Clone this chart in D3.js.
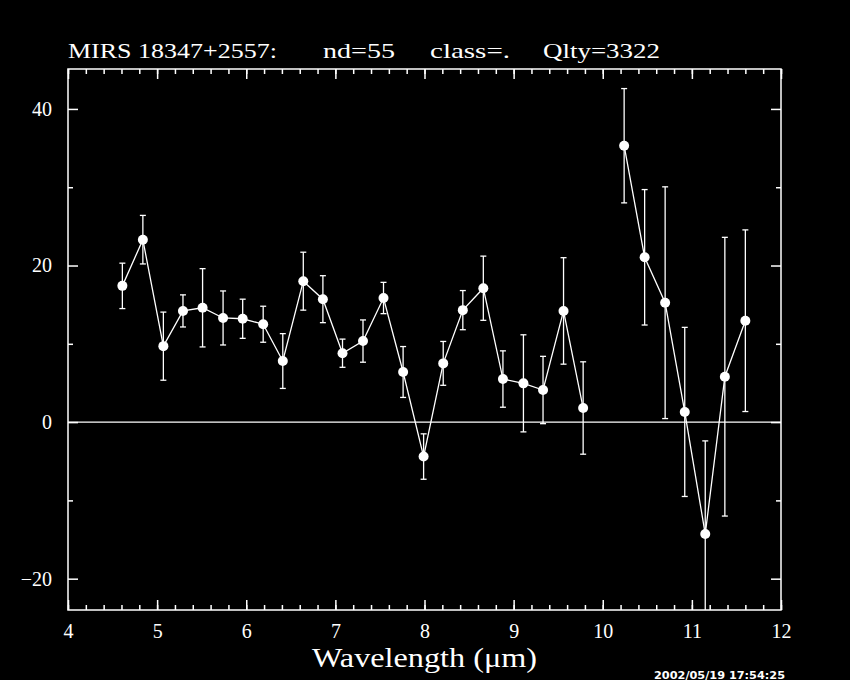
<!DOCTYPE html>
<html>
<head>
<meta charset="utf-8">
<script src="https://cdn.jsdelivr.net/npm/d3@7"></script>
<style>
  html, body { margin: 0; padding: 0; background: #000; }
  svg { display: block; }
  text { fill: #fff; }
</style>
</head>
<body>
<svg id="chart" width="850" height="680"></svg>
<script>
// ---- data ----
const wavelength = [4.61,4.84,5.07,5.29,5.51,5.74,5.96,6.19,6.41,6.64,6.86,7.08,7.31,7.54,7.76,7.99,8.21,8.43,8.66,8.88,9.11,9.33,9.56,9.78,
                    10.24,10.47,10.70,10.92,11.15,11.37,11.60];
const flux = [17.4,23.3,9.7,14.2,14.6,13.3,13.2,12.5,7.8,18.0,15.7,8.8,10.35,15.85,6.4,-4.4,7.5,14.3,17.1,5.5,4.95,4.1,14.2,1.8,
              35.3,21.05,15.25,1.3,-14.3,5.8,12.95];
const fluxErr = [2.9,3.1,4.35,2.05,5.0,3.45,2.5,2.3,3.5,3.7,3.0,1.8,2.7,2.0,3.25,2.9,2.8,2.5,4.1,3.6,6.2,4.3,6.8,5.9,
                 7.3,8.65,14.8,10.8,11.9,17.8,11.6];
const segment = [0,0,0,0,0,0,0,0,0,0,0,0,0,0,0,0,0,0,0,0,0,0,0,0,
                 1,1,1,1,1,1,1];
const xTickLabels = [4,5,6,7,8,9,10,11,12];
const xMinorTicks = d3.range(4, 12.0001, 0.2).map(v => +v.toFixed(1));
const yTickLabels = [-20,0,20,40];
const yMinorTicks = [-10,10,30];
const titleParts = ["MIRS 18347+2557:", "nd=55", "class=.", "Qlty=3322"];
const xTitle = "Wavelength (\u03BCm)";
const stamp = "2002/05/19 17:54:25";

// ---- layout ----
const L = 68, R = 781, T = 69, B = 610;
const svg = d3.select("#chart");
svg.append("rect").attr("width", 850).attr("height", 680).attr("fill", "#000");

const x = d3.scaleLinear().domain([4, 12]).range([L, R]);
const y = d3.scaleLinear().domain([-24, 45.1]).range([B, T]);

svg.append("clipPath").attr("id", "plotclip")
  .append("rect").attr("x", L).attr("y", T).attr("width", R - L).attr("height", B - T);

const fontSerif = "'Liberation Serif','DejaVu Serif',serif";

function styleAxis(g) {
  g.select(".domain").remove();
  g.selectAll("line").attr("stroke", "#fff").attr("stroke-width", 1.5);
}

// major/minor ticks, inward, on all four sides
svg.append("g").attr("transform", `translate(0,${B})`)
  .call(d3.axisBottom(x).tickValues(xMinorTicks).tickSize(-5).tickFormat(""))
  .call(styleAxis);
svg.append("g").attr("transform", `translate(0,${B})`)
  .call(d3.axisBottom(x).tickValues(xTickLabels).tickSize(-10).tickPadding(14).tickFormat(d3.format("d")))
  .call(styleAxis)
  .call(g => g.selectAll("text").attr("fill", "#fff").attr("font-family", fontSerif).attr("font-size", 20));
svg.append("g").attr("transform", `translate(0,${T})`)
  .call(d3.axisTop(x).tickValues(xMinorTicks).tickSize(-5).tickFormat(""))
  .call(styleAxis);
svg.append("g").attr("transform", `translate(0,${T})`)
  .call(d3.axisTop(x).tickValues(xTickLabels).tickSize(-10).tickFormat(""))
  .call(styleAxis);

svg.append("g").attr("transform", `translate(${L},0)`)
  .call(d3.axisLeft(y).tickValues(yMinorTicks).tickSize(-5).tickFormat(""))
  .call(styleAxis);
svg.append("g").attr("transform", `translate(${L},0)`)
  .call(d3.axisLeft(y).tickValues(yTickLabels).tickSize(-10).tickPadding(16)
        .tickFormat(d => d < 0 ? "\u2212" + Math.abs(d) : String(d)))
  .call(styleAxis)
  .call(g => g.selectAll("text").attr("fill", "#fff").attr("font-family", fontSerif).attr("font-size", 20));
svg.append("g").attr("transform", `translate(${R},0)`)
  .call(d3.axisRight(y).tickValues(yMinorTicks).tickSize(-5).tickFormat(""))
  .call(styleAxis);
svg.append("g").attr("transform", `translate(${R},0)`)
  .call(d3.axisRight(y).tickValues(yTickLabels).tickSize(-10).tickFormat(""))
  .call(styleAxis);

// frame
svg.append("rect").attr("x", L).attr("y", T).attr("width", R - L).attr("height", B - T)
  .attr("fill", "none").attr("stroke", "#fff").attr("stroke-width", 1.5);

// zero line
svg.append("line").attr("x1", L).attr("x2", R).attr("y1", y(0)).attr("y2", y(0))
  .attr("stroke", "#fff").attr("stroke-width", 1.2);

const plot = svg.append("g").attr("clip-path", "url(#plotclip)");
const pts = wavelength.map((w, i) => ({w, f: flux[i], e: fluxErr[i], s: segment[i]}));

// connecting lines per segment
const line = d3.line().x(d => x(d.w)).y(d => y(d.f));
d3.groups(pts, d => d.s).forEach(([, seg]) => {
  plot.append("path").datum(seg).attr("d", line)
    .attr("fill", "none").attr("stroke", "#fff").attr("stroke-width", 1.3);
});

// error bars
const eb = plot.append("g").attr("stroke", "#fff").attr("stroke-width", 1.3);
pts.forEach(d => {
  eb.append("line").attr("x1", x(d.w)).attr("x2", x(d.w)).attr("y1", y(d.f - d.e)).attr("y2", y(d.f + d.e));
  eb.append("line").attr("x1", x(d.w) - 3).attr("x2", x(d.w) + 3).attr("y1", y(d.f + d.e)).attr("y2", y(d.f + d.e));
  eb.append("line").attr("x1", x(d.w) - 3).attr("x2", x(d.w) + 3).attr("y1", y(d.f - d.e)).attr("y2", y(d.f - d.e));
});

// markers
plot.selectAll("circle.pt").data(pts).enter().append("circle")
  .attr("cx", d => x(d.w)).attr("cy", d => y(d.f)).attr("r", 5).attr("fill", "#fff");

// title
const titleX = [68, 323, 430, 543];
const titleEnd = [277, 395, 510, 660];
titleParts.forEach((t, i) => {
  svg.append("text").attr("x", titleX[i]).attr("y", 58)
    .attr("font-family", fontSerif).attr("font-size", 22)
    .attr("textLength", titleEnd[i] - titleX[i]).attr("lengthAdjust", "spacingAndGlyphs")
    .text(t);
});

// axis title
svg.append("text").attr("x", 312).attr("y", 667)
  .attr("font-family", fontSerif).attr("font-size", 27)
  .attr("textLength", 225).attr("lengthAdjust", "spacingAndGlyphs").text(xTitle);

// timestamp
svg.append("text").attr("x", 654).attr("y", 679)
  .attr("font-family", "'DejaVu Sans',sans-serif").attr("font-size", 10).attr("font-weight", "bold")
  .attr("textLength", 131).attr("lengthAdjust", "spacingAndGlyphs")
  .text(stamp);
</script>
</body>
</html>
